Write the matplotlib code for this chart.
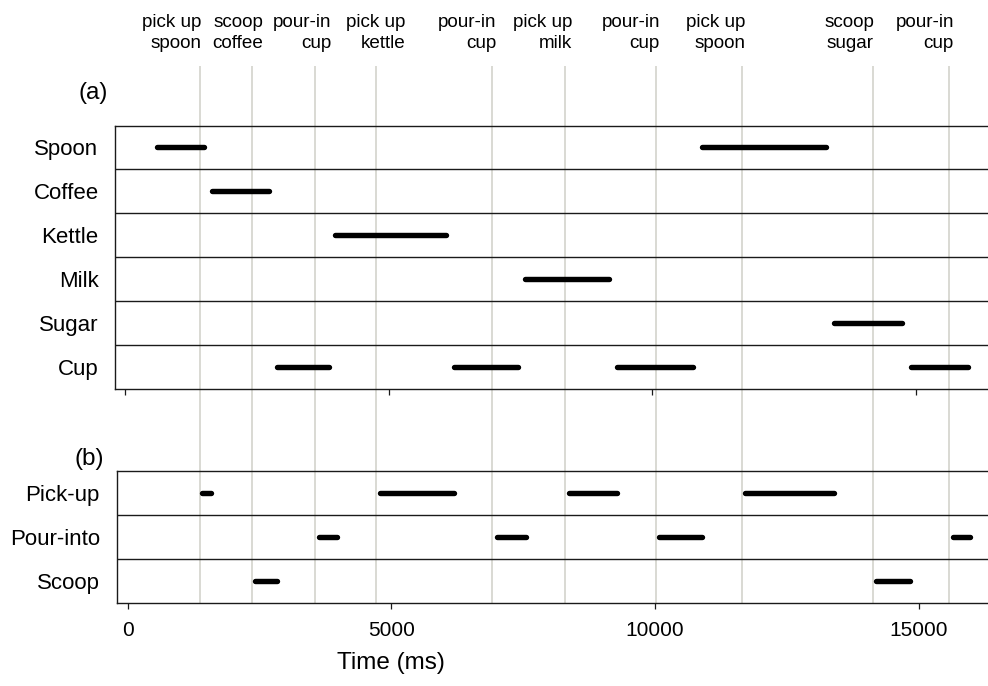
import matplotlib
matplotlib.use("Agg")
import matplotlib.pyplot as plt
from matplotlib.transforms import blended_transform_factory

plt.rcParams['font.family'] = ['Liberation Sans', 'DejaVu Sans']

# ---------------- data ----------------
objects = ['Spoon', 'Coffee', 'Kettle', 'Milk', 'Sugar', 'Cup']
spoon_seg = [(603, 1489), (10933, 13290)]
coffee_seg = [(1640, 2727)]
kettle_seg = [(3978, 6083)]
milk_seg = [(7576, 9169)]
sugar_seg = [(13450, 14739)]
cup_seg = [(2879, 3873), (6243, 7444), (9334, 10775), (14897, 15983)]
object_segments = [spoon_seg, coffee_seg, kettle_seg, milk_seg, sugar_seg, cup_seg]

actions = ['Pick-up', 'Pour-into', 'Scoop']
pickup_seg = [(1405, 1583), (4787, 6182), (8370, 9272), (11699, 13393)]
pour_seg = [(3630, 3977), (6992, 7547), (10081, 10884), (15642, 15977)]
scoop_seg = [(2404, 2827), (14195, 14834)]
action_segments = [pickup_seg, pour_seg, scoop_seg]

event_times = [1371, 2351, 3556, 4713, 6912, 8294, 10021, 11640, 14129, 15570]
event_labels = ['pick up\nspoon', 'scoop\ncoffee', 'pour-in\ncup', 'pick up\nkettle',
                'pour-in\ncup', 'pick up\nmilk', 'pour-in\ncup', 'pick up\nspoon',
                'scoop\nsugar', 'pour-in\ncup']
event_label_anchor = [1399, 2565, 3864, 5257, 6995, 8423, 10091, 11704, 14149, 15666]

xticks = [0, 5000, 10000, 15000]
xlim = (-200, 16540)

# ---------------- layout ----------------
W, H = 988, 686
fig = plt.figure(figsize=(W / 100, H / 100), dpi=100)
fig.patch.set_facecolor('white')


def rect(left_px, top_px, right_px, bottom_px):
    return [left_px / W, 1 - bottom_px / H, (right_px - left_px) / W, (bottom_px - top_px) / H]


span = (xlim[1] - xlim[0]) * 0.05274
ax_a = fig.add_axes(rect(114.5, 125.5, 114.5 + span, 388.5))
ax_b = fig.add_axes(rect(117.2, 471.3, 117.2 + span, 602.7))
ax_l = fig.add_axes(rect(117.2, 66, 117.2 + span, 602.7), zorder=0)
ax_a.set_zorder(2)
ax_b.set_zorder(2)

# gray event lines
ax_l.vlines(event_times, 0, 1, color='#d0d0c8', lw=1.1)
ax_l.set_xlim(*xlim)
ax_l.set_ylim(0, 1)
ax_l.axis('off')

bar_kw = dict(color='black', lw=3.9, solid_capstyle='round', zorder=3)


def setup(ax, names, segs, pad):
    n = len(names)
    ax.set_facecolor('none')
    ax.set_xlim(*xlim)
    ax.set_ylim(n, 0)
    for i, row in enumerate(segs):
        for s, e in row:
            ax.plot([s, e], [i + 0.5, i + 0.5], **bar_kw)
    for k in range(1, n):
        ax.axhline(k, color='#1a1a1a', lw=1.0, zorder=2)
    for sp in ax.spines.values():
        sp.set_color('#1a1a1a')
        sp.set_linewidth(1.0)
    ax.spines['right'].set_visible(False)
    ax.set_yticks([i + 0.5 for i in range(n)])
    ax.set_yticklabels(names, fontsize=16)
    ax.tick_params(axis='y', length=0, pad=pad)
    ax.set_xticks(xticks)
    ax.tick_params(axis='x', direction='out', length=4.3, width=0.9, color='#1a1a1a')


setup(ax_a, objects, object_segments, 11.5)
setup(ax_b, actions, action_segments, 12.5)
ax_a.set_xticklabels([])
ax_b.set_xticklabels([str(t) for t in xticks], fontsize=15)
ax_b.tick_params(axis='x', pad=9)

# event labels at top
tr = blended_transform_factory(ax_b.transData, fig.transFigure)
for x, lab in zip(event_label_anchor, event_labels):
    fig.text(x, 1 - 14 / H, lab, transform=tr, ha='right', va='top',
             multialignment='right', fontsize=13.6, linespacing=1.3)

fig.text(93 / W, 1 - 93 / H, '(a)', ha='center', va='center', fontsize=17.5)
fig.text(89 / W, 1 - 459 / H, '(b)', ha='center', va='center', fontsize=17.5)
fig.text(391 / W, 1 - 663 / H, 'Time (ms)', ha='center', va='center', fontsize=17.5)

fig.savefig('out.png', dpi=100, facecolor='white')
